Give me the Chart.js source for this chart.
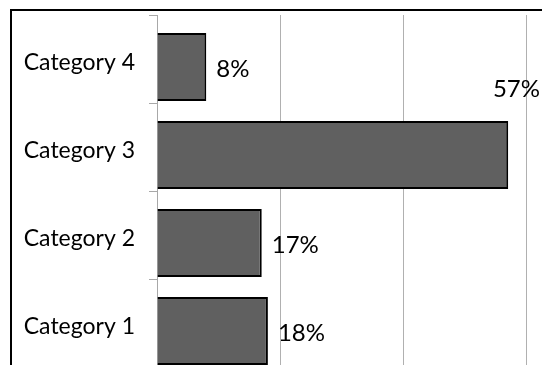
<!DOCTYPE html>
<html>
<head>
<meta charset="utf-8">
<title>Category shares</title>
<script src="https://cdn.jsdelivr.net/npm/chart.js@4.4.0/dist/chart.umd.min.js"></script>
<style>
    html, body {
        margin: 0;
        padding: 0;
        background: #fff;
        overflow: hidden;
    }
    /* frame runs past the window on the right and bottom */
    .chart-frame {
        position: absolute;
        left: 10px;
        top: 9px;
        width: 530px;
        height: 358px;
        border-top: 2px solid #000;
        border-left: 2px solid #000;
    }
    .chart-frame canvas {
        display: block;
    }
</style>
</head>
<body>
<div class="chart-frame">
    <canvas id="sharesChart" width="530" height="358"></canvas>
</div>
<script>
// Chart data
const categories = ['Category 1', 'Category 2', 'Category 3', 'Category 4'];
const shares = [18, 17, 57, 8];
const emptySeries = [null, null, null, null];
const axisMin = 0;
const axisMax = 60;
const axisStep = 20;

const labelFont = 'Lato, "Open Sans", sans-serif';

// Writes the percentage next to the end of each bar
const valueLabels = {
    id: 'valueLabels',
    afterDatasetsDraw(chart) {
        const ctx = chart.ctx;
        const meta = chart.getDatasetMeta(1);
        ctx.save();
        ctx.font = '24px ' + labelFont;
        ctx.fillStyle = '#000';
        ctx.textBaseline = 'middle';
        ctx.textAlign = 'left';
        meta.data.forEach((bar, i) => {
            const text = shares[i] + '%';
            const w = ctx.measureText(text).width;
            let x = bar.x + 10;
            let y = bar.y + 2;
            if (x + w > chart.width) {
                // no room past the bar end: lift it above, flush right
                x = chart.width - w - 2;
                y = bar.y - bar.height + 2;
            }
            ctx.fillText(text, x, y);
        });
        ctx.restore();
    }
};

const ctx = document.getElementById('sharesChart');
new Chart(ctx, {
    type: 'bar',
    data: {
        labels: categories,
        datasets: [
            {
                // empty series, keeps the real bars in the lower slot of each band
                label: 'Series 2',
                data: emptySeries
            },
            {
                label: 'Series 1',
                data: shares,
                backgroundColor: '#606060',
                borderColor: '#000',
                borderWidth: 2,
                categoryPercentage: 0.3636,
                barPercentage: 4.25
            }
        ]
    },
    plugins: [valueLabels],
    options: {
        indexAxis: 'y',
        responsive: false,
        animation: false,
        layout: {
            padding: { top: 4, right: 15.3, bottom: 2, left: 0 }
        },
        plugins: {
            legend: { display: false },
            tooltip: { enabled: false }
        },
        scales: {
            x: {
                min: axisMin,
                max: axisMax,
                ticks: {
                    stepSize: axisStep,
                    display: false
                },
                grid: {
                    color: '#b0b0b0',
                    lineWidth: 1,
                    drawTicks: false
                },
                border: { display: false }
            },
            y: {
                reverse: true,
                afterFit(scale) {
                    scale.width = 145;
                    // labels sit inside their bands, no extra room needed
                    scale.paddingTop = 0;
                    scale.paddingBottom = 0;
                },
                ticks: {
                    color: '#000',
                    padding: 14,
                    labelOffset: 4,
                    font: {
                        family: labelFont,
                        size: 23
                    }
                },
                grid: {
                    drawOnChartArea: false,
                    drawTicks: true,
                    tickLength: 8,
                    color: '#a8a8a8'
                },
                border: {
                    display: true,
                    color: '#a8a8a8',
                    width: 1
                }
            }
        }
    }
});
</script>
</body>
</html>
